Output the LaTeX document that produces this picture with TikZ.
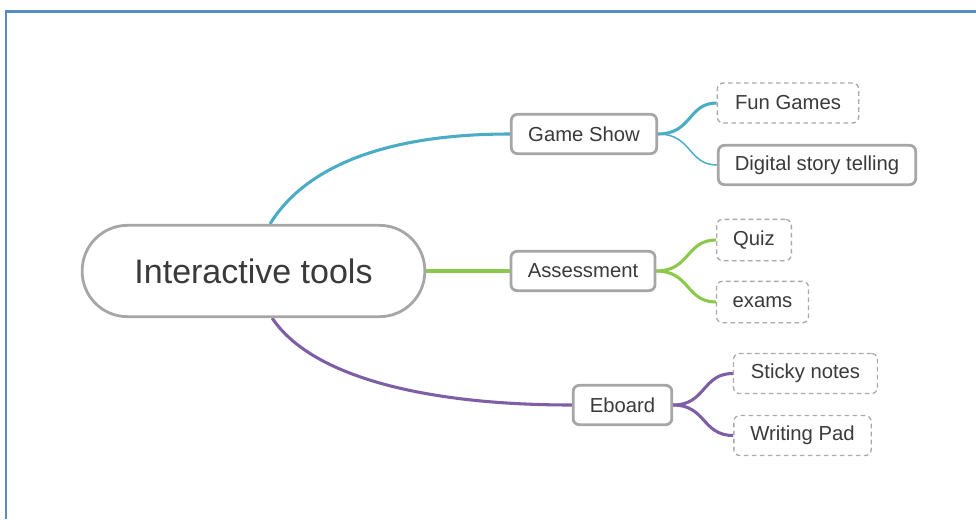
\documentclass[tikz,border=0pt]{standalone}
\usepackage{fontspec}
\setmainfont{Liberation Sans}
\usetikzlibrary{backgrounds}
\definecolor{frameblue}{HTML}{5A8AC6}
\definecolor{teal1}{HTML}{4BACC6}
\definecolor{green1}{HTML}{8CC84B}
\definecolor{purple1}{HTML}{7E5EA5}
\definecolor{boxgray}{HTML}{A6A6A6}
\definecolor{dashgray}{HTML}{AAAAAA}
\definecolor{txt}{HTML}{3A3A3A}
\tikzset{
  solidbox/.style={draw=boxgray, line width=2.1pt, rounded corners=4.5pt, fill=white,
    text=txt, font=\fontsize{15.2}{18}\selectfont, minimum height=29.5pt, inner sep=0pt},
  dashbox/.style={draw=dashgray, line width=1pt, dash pattern=on 3.5pt off 2.5pt, rounded corners=4.5pt, fill=white,
    text=txt, font=\fontsize{15.2}{18}\selectfont, minimum height=30pt, inner sep=0pt},
  centralbox/.style={draw=boxgray, line width=2.1pt, rounded corners=34pt, fill=white,
    text=txt, font=\fontsize{25.5}{30}\selectfont, minimum width=257pt, minimum height=68.5pt, inner sep=0pt},
  tealline/.style={draw=teal1, line width=2.3pt},
  tealthin/.style={draw=teal1, line width=1.1pt},
  greenline/.style={draw=green1, line width=2.3pt},
  purpleline/.style={draw=purple1, line width=2.3pt},
}
\begin{document}
\begin{tikzpicture}[x=0.75pt, y=-0.75pt]
\useasboundingbox (0,0) rectangle (976,519);
% frame
\draw[frameblue, line width=1.8pt] (976,11.5) -- (6,11.5) -- (6,519);

% nodes
\node[centralbox] (c) at (253.5,271) {Interactive tools};
\node[solidbox, minimum width=109pt] (gs) at (584,134) {Game Show};
\node[solidbox, minimum width=108pt] (as) at (583,271) {Assessment};
\node[solidbox, minimum width=74pt] (eb) at (622.5,405) {Eboard};
\node[dashbox, minimum width=106pt] (fg) at (788,103) {Fun Games};
\node[solidbox, minimum width=148pt] (ds) at (817,165) {Digital story telling};
\node[dashbox, minimum width=56pt, minimum height=31pt] (qz) at (754,240) {Quiz};
\node[dashbox, minimum width=69pt, minimum height=31pt] (ex) at (762.5,302) {exams};
\node[dashbox, minimum width=108pt] (sn) at (805.5,373.5) {Sticky notes};
\node[dashbox, minimum width=103pt] (wp) at (802.5,435.5) {Writing Pad};

\begin{scope}[on background layer]
% connectors from central
\draw[tealline] ([xshift=12.4pt]c.north) .. controls (300,175) and (370,134) .. (gs.west);
\draw[greenline] (c.east) -- (as.west);
\draw[purpleline] ([xshift=14pt]c.south) .. controls (310,375) and (420,405) .. (eb.west);
% child connectors
\draw[tealline] (gs.east) .. controls (692,134) and (688,103) .. (fg.west);
\draw[tealthin] (gs.east) .. controls (692,134) and (688,165) .. (ds.west);
\draw[greenline] (as.east) .. controls (690,271) and (686,240) .. (qz.west);
\draw[greenline] (as.east) .. controls (690,271) and (686,302) .. (ex.west);
\draw[purpleline] (eb.east) .. controls (706,405) and (702,373.5) .. (sn.west);
\draw[purpleline] (eb.east) .. controls (706,405) and (702,435.5) .. (wp.west);
\end{scope}
\end{tikzpicture}
\end{document}
